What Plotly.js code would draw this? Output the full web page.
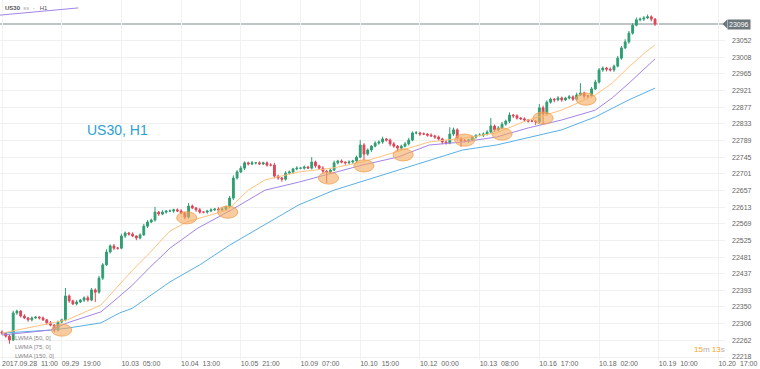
<!DOCTYPE html>
<html><head><meta charset="utf-8">
<script src="https://cdn.plot.ly/plotly-3.0.1.min.js"></script>
<style>html,body{margin:0;padding:0;background:#fff}#chart{width:760px;height:369px}</style>
</head><body><div id="chart"></div>
<script>
// 2-hour candles, US30 H1 view
const closes = [
22281,22273,22263,22334,22339,22326,22321,22316,22321,22323,
22321,22316,22308,22302,22289,22310,22316,22379,22366,22358,
22363,22368,22374,22368,22395,22389,22426,22461,22495,22511,
22505,22505,22537,22545,22542,22537,22532,22540,22563,22574,
22579,22600,22595,22600,22603,22603,22606,22603,22598,22587,
22616,22611,22606,22600,22600,22603,22606,22608,22606,22608,
22614,22637,22690,22706,22716,22730,22727,22730,22730,22727,
22730,22724,22724,22695,22690,22687,22703,22706,22714,22716,
22716,22719,22716,22732,22722,22716,22708,22706,22711,22730,
22735,22732,22730,22732,22735,22745,22777,22753,22764,22774,
22782,22785,22793,22790,22780,22774,22769,22774,22780,22790,
22809,22809,22806,22806,22803,22801,22798,22793,22785,22782,
22806,22817,22795,22788,22788,22790,22798,22803,22803,22806,
22811,22827,22817,22822,22832,22840,22856,22854,22848,22846,
22843,22840,22840,22838,22875,22859,22890,22898,22896,22901,
22896,22901,22904,22898,22909,22914,22906,22906,22925,22943,
22975,22980,22977,22975,22985,23006,23033,23049,23072,23093,
23107,23109,23112,23115,23109,23096];
const firstOpen = 22284;
const wickUp = [
4,3,5,6,4,3,5,2,4,3, 3,4,2,5,3,4,3,21,4,3, 5,3,4,6,5,4,6,5,7,4,
5,3,6,4,3,5,2,4,6,5, 4,14,3,5,2,4,3,4,5,3, 8,4,3,5,2,3,4,3,5,4,
3,6,7,5,6,4,3,5,2,4, 3,4,5,6,4,3,5,4,3,5, 2,4,3,13,4,3,5,3,4,6,
3,4,2,5,3,4,13,5,4,3, 5,4,6,3,4,5,3,4,5,6, 4,5,3,4,2,5,3,4,3,5,
18,6,4,3,5,3,4,2,5,4, 5,21,4,5,6,4,7,3,4,3, 4,3,5,3,10,6,5,4,3,5,
4,3,5,4,6,26,4,3,5,6, 5,4,3,5,4,6,5,7,6,5, 6,4,5,6,4,3];
const wickDown = [
5,4,10,3,5,4,3,5,4,3, 4,3,5,3,6,4,3,4,5,3, 4,3,5,4,3,26,4,5,3,4,
5,4,3,5,4,3,6,4,3,5, 3,4,5,3,4,2,5,3,4,6, 4,3,5,4,3,4,2,3,4,3,
4,3,5,4,3,5,4,3,4,2, 3,4,3,6,5,7,4,3,5,4, 3,4,2,3,5,4,6,29,4,3,
4,3,5,3,4,5,3,16,4,5, 3,4,5,4,6,4,10,5,3,4, 3,4,5,3,4,3,5,4,6,4,
3,5,6,16,4,5,3,4,3,5, 4,3,5,4,3,4,5,6,4,3, 5,4,3,8,4,27,5,4,6,4,
5,3,4,5,4,3,6,5,4,3, 4,5,6,4,5,3,4,3,5,4, 3,4,5,3,6,5];
const hoursPerBar = 2;

const xTickHours = [0,32,64,96,128,160,192,224,256,288,320,352,384];
const xTickLabels = ["2017.09.28  11:00","09.29  19:00","10.03  05:00","10.04  13:00","10.05  21:00",
  "10.09  07:00","10.10  15:00","10.12  00:00","10.13  08:00","10.16  17:00","10.18  02:00","10.19  10:00","10.20  17:00"];
const yTickValues = [22218,22262,22306,22350,22393,22437,22481,22525,22569,22613,22657,22701,22745,22789,22833,22877,22921,22965,23008,23052];

const lwma50Hours  = [0,20,35,53,62,70,79,90,99,121,132,141,159,177,193,212,229,247,265,282,300,318,327,336,345,350];
const lwma50Values = [22281,22300,22316,22355,22403,22447,22492,22550,22574,22606,22658,22685,22706,22716,22732,22759,22785,22795,22809,22843,22869,22909,22940,22983,23022,23041];
const lwma75Hours  = [0,26,35,53,62,70,79,90,105,123,141,159,177,193,212,229,247,265,282,300,318,327,336,350];
const lwma75Values = [22276,22289,22308,22337,22374,22408,22453,22505,22558,22606,22658,22679,22703,22724,22745,22777,22785,22798,22822,22843,22869,22901,22940,23004];
const lwma150Hours  = [0,26,35,53,63,70,90,106,122,136,159,178,212,229,247,265,300,318,336,350];
const lwma150Values = [22281,22289,22294,22308,22334,22347,22416,22461,22513,22553,22619,22658,22711,22737,22764,22777,22817,22851,22896,22927];

const highlightHours  = [32,99,121,175,194,215,248,268,290,313];
const highlightPrices = [22289,22585,22600,22690,22722,22751,22790,22806,22848,22898];
const lastPrice = 23096;
const legendLabels = ["LWMA [50, 0]","LWMA [75, 0]","LWMA [150, 0]"];

const x = closes.map((_, i) => i * hoursPerBar);
const opens = closes.map((c, i) => i === 0 ? firstOpen : closes[i - 1]);
const highs = closes.map((c, i) => Math.max(c, opens[i]) + wickUp[i]);
const lows = closes.map((c, i) => Math.min(c, opens[i]) - wickDown[i]);

const traces = [
  {type:'scatter', mode:'lines', x:lwma150Hours, y:lwma150Values, line:{color:'#5aafe6', width:1}, hoverinfo:'skip'},
  {type:'scatter', mode:'lines', x:lwma75Hours, y:lwma75Values, line:{color:'#a384e6', width:1}, hoverinfo:'skip'},
  {type:'scatter', mode:'lines', x:lwma50Hours, y:lwma50Values, line:{color:'#ffc27e', width:1}, hoverinfo:'skip'},
  {type:'candlestick', x:x, open:opens, high:highs, low:lows, close:closes,
   increasing:{line:{color:'#2f9e72', width:1}, fillcolor:'#2f9e72'},
   decreasing:{line:{color:'#e04558', width:1}, fillcolor:'#e04558'},
   whiskerwidth:0, hoverinfo:'skip'}
];

const shapes = highlightHours.map((h, i) => ({
  type:'circle', xref:'x', yref:'y', layer:'above',
  x0:h - 5.4, x1:h + 5.4, y0:highlightPrices[i] - 16, y1:highlightPrices[i] + 16,
  fillcolor:'rgba(245,170,95,0.6)', line:{color:'rgba(240,160,80,0.8)', width:1}
}));
shapes.push({type:'line', xref:'paper', yref:'y', x0:0, x1:1, y0:lastPrice, y1:lastPrice, layer:'below',
  line:{color:'#a9b3b6', width:1.5}});
shapes.push({type:'path', xref:'paper', yref:'y',
  path:`M 0.9965 ${lastPrice} L 1.003 ${lastPrice+12} L 1.003 ${lastPrice-12} Z`,
  fillcolor:'#6d777b', line:{width:0}});
shapes.push({type:'line', xref:'paper', yref:'paper', x0:0, y0:0.958, x1:0.108, y1:0.978,
  line:{color:'#a384e6', width:1}});

const annotations = [
  {xref:'paper', yref:'y', x:1.003, y:lastPrice, xanchor:'left', yanchor:'middle', showarrow:false,
   text:String(lastPrice), font:{family:'Liberation Sans, Arial', size:7, color:'#ffffff'},
   bgcolor:'#6d777b', borderpad:1},
  {xref:'paper', yref:'paper', x:117/725, y:1-130/360, xanchor:'center', yanchor:'middle', showarrow:false, text:'US30, H1',
   font:{family:'Liberation Sans, Arial', size:14, color:'#2c9fd9'}},
  {xref:'paper', yref:'paper', x:3/725, y:1-8/360, xanchor:'left', yanchor:'middle', showarrow:false,
   text:'<b>US30</b>  <span style="color:#aaa">ss</span>  <span style="color:#aaa">-</span>   H1',
   font:{family:'Liberation Sans, Arial', size:6, color:'#555'}},
  {xref:'paper', yref:'paper', x:727/725, y:1-349/360, xanchor:'right', yanchor:'middle', showarrow:false,
   text:'<span style="color:#f5a623">15</span><span style="color:#b0b0b0">m</span> <span style="color:#f5a623">13</span><span style="color:#b0b0b0">s</span>',
   font:{family:'Liberation Sans, Arial', size:8}}
];
legendLabels.forEach((t, i) => annotations.push({
  xref:'paper', yref:'paper', x:13/725, y:1-(338 + i*9)/360, xanchor:'left', yanchor:'middle', showarrow:false,
  text:t, font:{family:'Liberation Sans, Arial', size:6, color:'#888'}
}));

const layout = {
  width:760, height:369,
  margin:{l:0, r:35, t:0, b:9},
  paper_bgcolor:'#ffffff', plot_bgcolor:'#ffffff',
  showlegend:false,
  xaxis:{type:'linear', range:[-1.07, 387.5], tickmode:'array', tickvals:xTickHours, ticktext:xTickLabels,
    ticklabelposition:'outside right', ticks:'', ticklabelstandoff:-2, showgrid:true, gridcolor:'#f2f2f2', gridwidth:1,
    zeroline:false, showline:false, rangeslider:{visible:false}, fixedrange:true,
    tickfont:{family:'Liberation Sans, Arial', size:7, color:'#666'}},
  yaxis:{side:'right', range:[22210.1, 23159.4], tickmode:'array', tickvals:yTickValues,
    ticktext:yTickValues.map(String), ticks:'', ticklabelstandoff:6, showgrid:true, gridcolor:'#f0f0f0',
    zeroline:false, showline:false, fixedrange:true,
    tickfont:{family:'Liberation Sans, Arial', size:7, color:'#666'}},
  shapes:shapes, annotations:annotations
};
Plotly.newPlot('chart', traces, layout, {staticPlot:true, displayModeBar:false});
</script></body></html>
